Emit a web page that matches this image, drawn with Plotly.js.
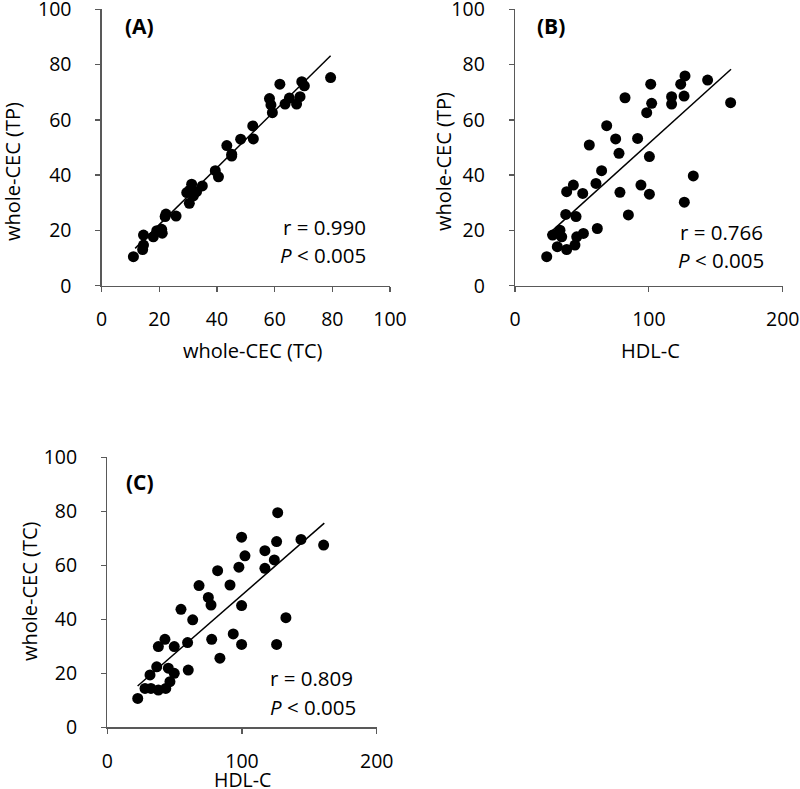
<!DOCTYPE html>
<html>
<head>
<meta charset="utf-8">
<script src="https://cdn.plot.ly/plotly-3.0.1.min.js"></script>
<style>html,body{margin:0;padding:0;background:#fff;}#chart{width:800px;height:789px;}</style>
</head>
<body>
<div id="chart"></div>
<script>
// Panel A: whole-CEC (TC) vs whole-CEC (TP)
const aX = [11.0,14.2,14.5,14.5,17.9,19.1,20.8,21.0,22.0,22.3,25.8,30.4,29.5,30.6,31.2,32.9,31.8,34.9,39.4,40.5,43.4,45.1,45.1,48.2,52.4,52.6,58.2,58.7,59.2,61.8,63.6,65.1,67.6,68.8,69.4,70.3,79.4];
const aY = [10.5,13.1,14.7,18.3,17.7,19.9,20.4,19.0,25.0,25.9,25.2,29.8,33.7,34.6,36.7,34.0,32.5,36.1,41.6,39.4,50.7,46.9,47.6,53.0,57.8,53.1,67.7,65.4,62.6,72.9,65.7,67.9,65.7,68.4,73.8,72.3,75.3];
const aLineX = [11.6, 79.4];
const aLineY = [13.5, 83.2];

// Panel B: HDL-C vs whole-CEC (TP)
const bX = [23.7,28.1,32.4,33.6,34.9,31.6,38.6,44.8,46.1,51.1,37.9,45.6,38.6,43.6,50.6,55.5,60.5,61.5,64.7,68.5,75.2,77.7,78.4,82.2,84.7,91.6,94.1,98.4,100.4,100.4,101.4,102.1,117.0,117.0,123.8,127.0,126.3,126.5,133.2,143.9,161.1];
const bY = [10.5,18.3,18.9,20.1,17.7,14.1,13.1,14.7,17.7,18.9,25.8,25.0,34.0,36.4,33.4,50.9,37.0,20.7,41.6,57.9,53.1,47.9,33.8,68.0,25.6,53.3,36.4,62.6,46.7,33.1,72.9,66.0,68.4,65.7,72.9,75.9,68.6,30.2,39.7,74.4,66.2];
const bLineX = [24.2, 161.4];
const bLineY = [18.3, 78.3];

// Panel C: HDL-C vs whole-CEC (TC)
const cX = [22.6,28.0,32.4,37.9,43.4,31.7,36.7,45.3,49.7,46.5,60.1,37.9,42.8,49.7,54.7,59.6,63.4,68.1,75.0,77.0,77.5,81.9,83.6,91.1,93.5,97.7,99.7,99.7,99.7,102.2,117.0,117.0,124.0,125.7,126.5,125.7,132.6,143.8,160.6];
const cY = [10.7,14.4,14.4,13.8,14.4,19.4,22.4,21.9,20.0,16.9,21.2,29.9,32.6,29.9,43.7,31.4,39.8,52.5,48.1,45.3,32.6,58.0,25.6,52.7,34.6,59.3,70.4,45.1,30.7,63.5,65.4,58.9,62.0,68.8,79.5,30.7,40.6,69.6,67.5];
const cLineX = [22.5, 161.1];
const cLineY = [15.3, 75.6];

const panelLabels = ["(A)", "(B)", "(C)"];
const rTexts = ["r = 0.990", "r = 0.766", "r = 0.809"];
const pText = "<i>P</i> &lt; 0.005";
const xTitles = ["whole-CEC (TC)", "HDL-C", "HDL-C"];
const yTitles = ["whole-CEC (TP)", "whole-CEC (TP)", "whole-CEC (TC)"];
const tickA = [0, 20, 40, 60, 80, 100];
const tickHDL = [0, 100, 200];
const tickY = [0, 20, 40, 60, 80, 100];

const W = 800, H = 789;
const px = x => x / W;
const py = y => 1 - y / H;
const FONT = "Open Sans, Noto Sans, sans-serif";
const AXC = "#595959";

function pts(x, y, xa, ya) {
  return {x: x, y: y, xaxis: xa, yaxis: ya, type: "scatter", mode: "markers",
    marker: {color: "#000", size: 11, line: {width: 0}}, hoverinfo: "skip", showlegend: false};
}
function fit(x, y, xa, ya) {
  return {x: x, y: y, xaxis: xa, yaxis: ya, type: "scatter", mode: "lines",
    line: {color: "#000", width: 1.5}, hoverinfo: "skip", showlegend: false};
}

const data = [
  pts(aX, aY, "x", "y"), fit(aLineX, aLineY, "x", "y"),
  pts(bX, bY, "x2", "y2"), fit(bLineX, bLineY, "x2", "y2"),
  pts(cX, cY, "x3", "y3"), fit(cLineX, cLineY, "x3", "y3")
];

function xax(dom, range, ticks, anchor) {
  return {domain: dom, range: range, anchor: anchor, tickvals: ticks, ticktext: ticks.map(String),
    showgrid: false, zeroline: false, showline: true, linecolor: AXC, linewidth: 1.3,
    ticks: "outside", ticklen: 5, tickwidth: 1.3, tickcolor: AXC, ticklabelstandoff: 11,
    ticklabeloverflow: "allow",
    tickfont: {family: FONT, size: 19.5, color: "#000"}, fixedrange: true};
}
function yax(dom, anchor) {
  return {domain: dom, range: [0, 100], anchor: anchor, tickvals: tickY, ticktext: tickY.map(String),
    showgrid: false, zeroline: false, showline: true, linecolor: AXC, linewidth: 1.3,
    ticks: "outside", ticklen: 5, tickwidth: 1.3, tickcolor: AXC, ticklabelstandoff: 20,
    ticklabeloverflow: "allow",
    tickfont: {family: FONT, size: 19.5, color: "#000"}, fixedrange: true};
}

function ann(text, x, y, opts) {
  return Object.assign({text: text, xref: "paper", yref: "paper", x: px(x), y: py(y),
    xanchor: "center", yanchor: "middle",
    showarrow: false, font: {family: FONT, size: 20, color: "#000"}}, opts || {});
}

const boldF = {family: FONT, size: 21, color: "#000"};
const statF = {family: FONT, size: 20.5, color: "#000"};

const annotations = [
  // panel labels
  ann("<b>" + panelLabels[0] + "</b>", 139, 26, {font: boldF}),
  ann("<b>" + panelLabels[1] + "</b>", 551, 26, {font: boldF}),
  ann("<b>" + panelLabels[2] + "</b>", 140, 482, {font: boldF}),
  // r and P
  ann(rTexts[0], 368, 227, {xanchor: "right", font: statF}),
  ann(pText, 368, 255, {xanchor: "right", font: statF}),
  ann(rTexts[1], 765, 232, {xanchor: "right", font: statF}),
  ann(pText, 766, 260, {xanchor: "right", font: statF}),
  ann(rTexts[2], 355, 678, {xanchor: "right", font: statF}),
  ann(pText, 358, 707, {xanchor: "right", font: statF}),
  // axis titles
  ann(xTitles[0], 253, 351),
  ann(xTitles[1], 650, 351),
  ann(xTitles[2], 242, 779, {font: {family: FONT, size: 19.5, color: "#000"}}),
  ann(yTitles[0], 12, 172, {textangle: -90}),
  ann(yTitles[1], 444, 162, {textangle: -90}),
  ann(yTitles[2], 29, 591, {textangle: -90})
];

const layout = {
  width: W, height: H,
  margin: {l: 0, r: 0, t: 0, b: 0},
  paper_bgcolor: "#fff", plot_bgcolor: "rgba(0,0,0,0)",
  showlegend: false,
  xaxis: xax([px(101.7), px(390)], [0, 100], tickA, "y"),
  yaxis: yax([py(285.7), py(9.3)], "x"),
  xaxis2: xax([px(515), px(782.7)], [0, 200], tickHDL, "y2"),
  yaxis2: yax([py(285.7), py(9.3)], "x2"),
  xaxis3: xax([px(107.3), px(376.7)], [0, 200], tickHDL, "y3"),
  yaxis3: yax([py(727.3), py(457.3)], "x3"),
  annotations: annotations
};

Plotly.newPlot("chart", data, layout, {displayModeBar: false, staticPlot: true});
</script>
</body>
</html>
